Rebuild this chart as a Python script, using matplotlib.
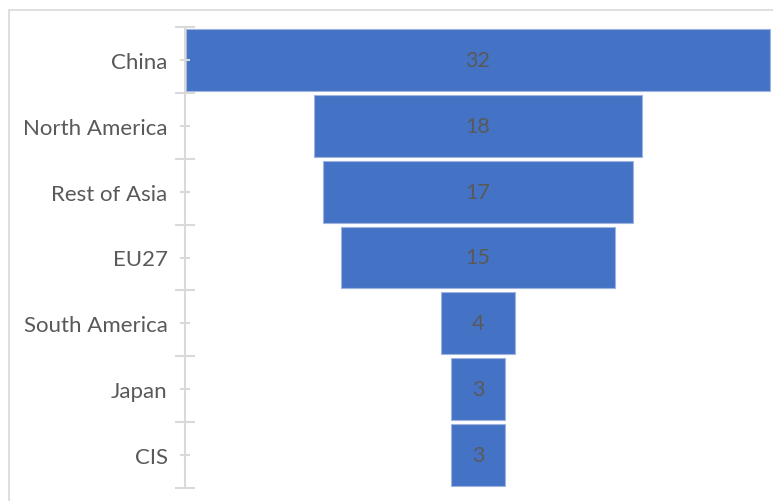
import matplotlib.pyplot as plt
from matplotlib.patches import Rectangle
import numpy as np

# Regional shares, top of funnel first
regions = ['China', 'North America', 'Rest of Asia', 'EU27', 'South America', 'Japan', 'CIS']
shares = [32, 18, 17, 15, 4, 3, 3]

bar_color = '#4472C4'
grid_gray = '#D9D9D9'
text_gray = '#595959'

plt.rcParams['font.family'] = ['Lato', 'DejaVu Sans']

fig = plt.figure(figsize=(7.73, 5.02), dpi=100)

# light chart frame
fig.patches.append(Rectangle((9 / 773, -0.1), 1.2, 1 - 11 / 502 + 0.1,
                             transform=fig.transFigure, fill=False,
                             edgecolor=grid_gray, linewidth=1.2))

ax = fig.add_axes([185 / 773, 13 / 502, 586 / 773, 461 / 502])

y = np.arange(len(regions))
vals = np.array(shares, dtype=float)
ax.barh(y, vals, left=-vals / 2, height=0.94, color=bar_color,
        edgecolor='#9FB5E0', linewidth=0.8)

for yi, v in zip(y, shares):
    ax.text(0, yi, str(v), ha='center', va='center', fontsize=15.5, color=text_gray)

ax.set_xlim(-16.05, 16.05)
ax.set_ylim(len(regions) - 0.5, -0.5)

ax.set_yticks(np.arange(len(regions) + 1) - 0.5)
ax.set_yticklabels([])
ax.set_yticks(y, minor=True)
ax.set_yticklabels(regions, minor=True, fontsize=16, color=text_gray)
ax.tick_params(axis='y', which='major', direction='inout', length=14, width=1.5, color=grid_gray)
ax.tick_params(axis='y', which='minor', direction='inout', length=7, width=1.5, color=grid_gray, pad=9)

ax.set_xticks([])
for side in ['top', 'right', 'bottom']:
    ax.spines[side].set_visible(False)
ax.spines['left'].set_color(grid_gray)
ax.spines['left'].set_linewidth(1.5)

fig.savefig('out.png', dpi=100)
